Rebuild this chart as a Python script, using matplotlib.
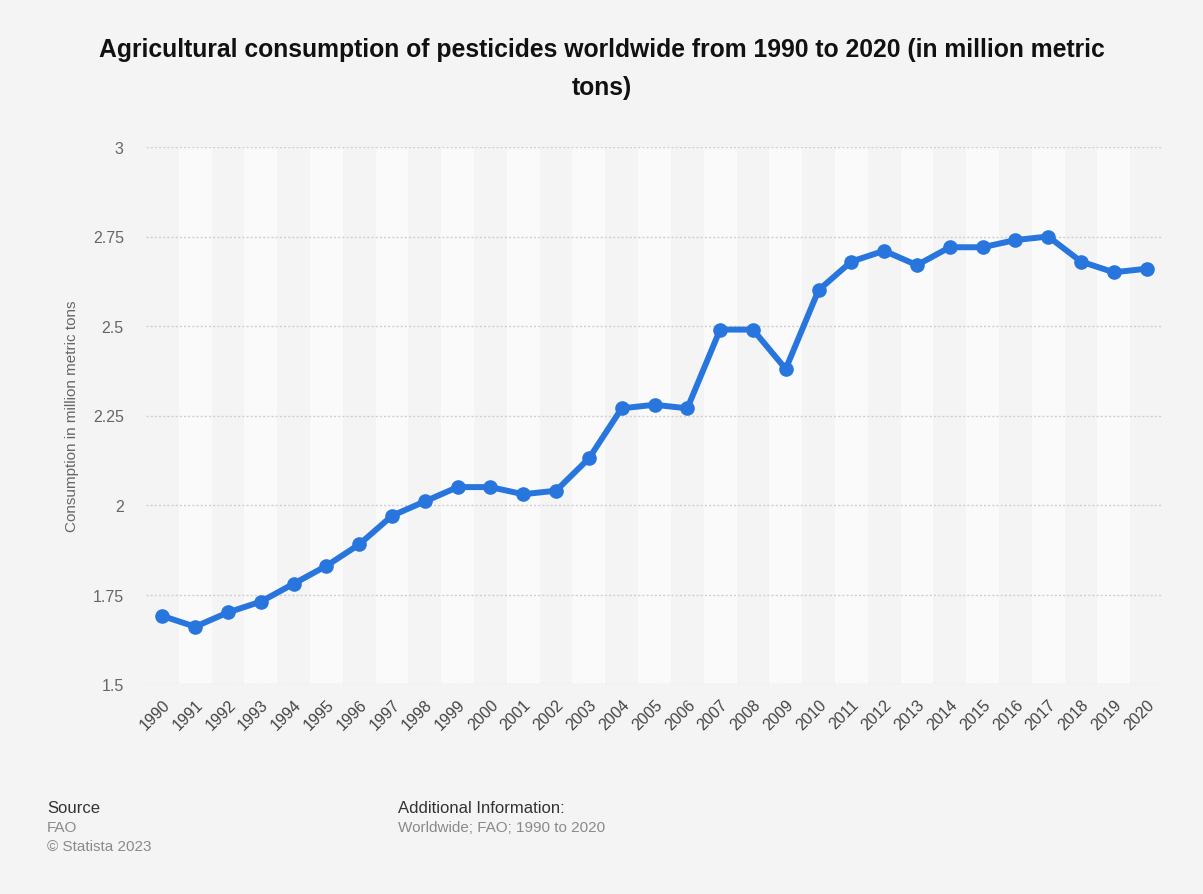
import matplotlib.pyplot as plt
import numpy as np

plt.rcParams["font.family"] = ["Liberation Sans", "DejaVu Sans"]

years = list(range(1990, 2021))
consumption = [1.69, 1.66, 1.70, 1.73, 1.78, 1.83, 1.89, 1.97, 2.01, 2.05,
               2.05, 2.03, 2.04, 2.13, 2.27, 2.28, 2.27, 2.49, 2.49, 2.38,
               2.60, 2.68, 2.71, 2.67, 2.72, 2.72, 2.74, 2.75, 2.68, 2.65,
               2.66]
y_ticks = [1.5, 1.75, 2, 2.25, 2.5, 2.75, 3]
y_tick_labels = ["1.5", "1.75", "2", "2.25", "2.5", "2.75", "3"]

bg = "#f4f4f4"
fig = plt.figure(figsize=(12.03, 8.95), dpi=100, facecolor=bg)
ax = fig.add_axes([146 / 1203, 1 - 685 / 895, (1163 - 146) / 1203, (685 - 148) / 895])
ax.set_facecolor(bg)

# alternating column shading, one band per year
for i, yr in enumerate(years):
    if i % 2 == 1:
        ax.axvspan(yr - 0.5, yr + 0.5, color="#fafafa", lw=0, zorder=0)

for t in y_ticks:
    ax.axhline(t, color="#cfcfcf", lw=1, ls=(0, (1.5, 1.5)), zorder=1)

ax.plot(years, consumption, color="#2876dd", lw=4.3, marker="o", ms=9.5,
        solid_joinstyle="round", zorder=3, clip_on=False)

ax.set_xlim(years[0] - 0.5, years[-1] + 0.5)
ax.set_ylim(1.5, 3)
ax.set_yticks(y_ticks)
ax.set_yticklabels(y_tick_labels)
ax.set_xticks(years)
ax.set_xticklabels([str(y) for y in years], rotation=45, ha="right",
                   rotation_mode="anchor")
ax.tick_params(axis="y", length=0, pad=16, labelsize=11.5, labelcolor="#666666")
ax.tick_params(axis="x", length=0, pad=9, labelsize=11.5, labelcolor="#444444")
for s in ax.spines.values():
    s.set_visible(False)

ax.set_ylabel("Consumption in million metric tons", fontsize=11,
              color="#666666", labelpad=10)

fig.text(0.5, 1 - 50 / 895,
         "Agricultural consumption of pesticides worldwide from 1990 to 2020 (in million metric",
         ha="center", va="center", fontsize=17.8, fontweight="bold", color="#111111")
fig.text(0.5, 1 - 88 / 895, "tons)", ha="center", va="center",
         fontsize=17.8, fontweight="bold", color="#111111")

# footer
fig.text(47 / 1203, 1 - 809 / 895, "Source", fontsize=12, color="#333333", va="center")
fig.text(47 / 1203, 1 - 828 / 895, "FAO", fontsize=11, color="#8a8a8a", va="center")
fig.text(47 / 1203, 1 - 847 / 895, "© Statista 2023", fontsize=11, color="#8a8a8a", va="center")
fig.text(398 / 1203, 1 - 809 / 895, "Additional Information:", fontsize=12,
         color="#333333", va="center")
fig.text(398 / 1203, 1 - 828 / 895, "Worldwide; FAO; 1990 to 2020", fontsize=11,
         color="#8a8a8a", va="center")

fig.savefig("out.png", dpi=100, facecolor=bg)
